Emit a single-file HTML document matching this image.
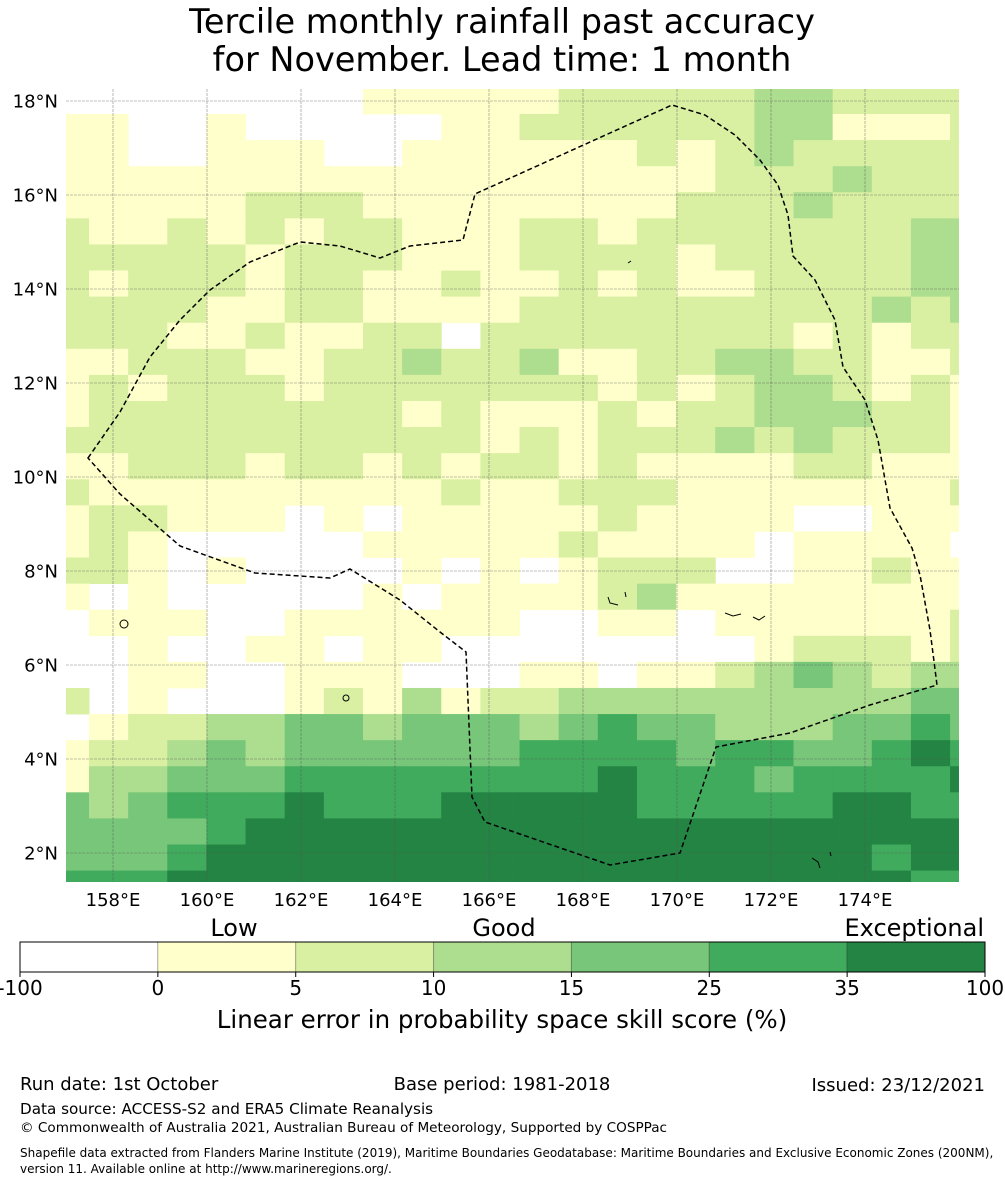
<!DOCTYPE html>
<html><head><meta charset="utf-8"><style>
body{margin:0;background:#fff;width:1005px;height:1185px;overflow:hidden;font-family:"DejaVu Sans","Liberation Sans",sans-serif}
svg text{font-family:"DejaVu Sans","Liberation Sans",sans-serif}
</style></head><body>
<svg id="chart" width="1005" height="1185" viewBox="0 0 1005 1185" xmlns="http://www.w3.org/2000/svg">
<text x="502" y="33" font-size="33.5" text-anchor="middle">Tercile monthly rainfall past accuracy</text>
<text x="502" y="71" font-size="33.5" text-anchor="middle">for November. Lead time: 1 month</text>
<defs><clipPath id="mapclip"><rect x="66" y="89" width="893" height="793"/></clipPath></defs>
<g id="cells" clip-path="url(#mapclip)"></g>
<g id="grid"></g>
<path fill="none" stroke="#000" stroke-width="1.5" stroke-dasharray="5,3" d="M88,458 L120,412 L150,357 L180,320 L210,290 L250,262 L300,242 L340,246 L380,258 L410,246 L463,240 L475,194 L672,105 L705,115 L735,135 L760,160 L778,185 L788,215 L793,256 L815,280 L835,320 L843,367 L865,400 L878,440 L890,508 L912,548 L920,575 L930,630 L937,685 L870,705 L790,733 L716,747 L680,853 L610,865 L485,822 L472,797 L466,652 L440,632 L400,600 L350,569 L330,578 L255,573 L180,546 L120,494 Z"/>
<g id="islands" fill="none" stroke="#000" stroke-width="1">
<circle cx="124" cy="624" r="4"/><circle cx="346" cy="698" r="3"/><path d="M725,613 l8,3 l8,-2 M753,617 l6,3 l6,-4"/><path d="M608,597 l2,6 l8,2 M625,592 l1,5"/><path d="M812,858 l6,4 l2,6 M830,852 l1,4"/><path d="M628,263 l3,-2"/>
</g>
<g id="ylabels" font-size="18" text-anchor="end"></g>
<g id="xlabels" font-size="18" text-anchor="middle"></g>
<text x="234" y="936" font-size="24" text-anchor="middle">Low</text>
<text x="504" y="936" font-size="24" text-anchor="middle">Good</text>
<text x="984" y="936" font-size="24" text-anchor="end">Exceptional</text>
<g id="cbar"></g>
<text x="502" y="1028" font-size="24.5" text-anchor="middle">Linear error in probability space skill score (%)</text>
<text x="20" y="1090" font-size="18">Run date: 1st October</text>
<text x="502" y="1090" font-size="18" text-anchor="middle">Base period: 1981-2018</text>
<text x="985" y="1091" font-size="18" text-anchor="end">Issued: 23/12/2021</text>
<text x="20" y="1114" font-size="15.2">Data source: ACCESS-S2 and ERA5 Climate Reanalysis</text>
<text x="20" y="1132" font-size="13.6">© Commonwealth of Australia 2021, Australian Bureau of Meteorology, Supported by COSPPac</text>
<text x="20" y="1157" font-size="12">Shapefile data extracted from Flanders Marine Institute (2019), Maritime Boundaries Geodatabase: Maritime Boundaries and Exclusive Economic Zones (200NM),</text>
<text x="20" y="1173" font-size="12">version 11. Available online at http://www.marineregions.org/.</text>
</svg>
<script>
const levelColors = ["#ffffff","#ffffcc","#d9f0a3","#addd8e","#78c679","#41ab5d","#238443"];
const cbarTicks = ["-100","0","5","10","15","25","35","100"];
const latTicks = [18,16,14,12,10,8,6,4,2];
const lonTicks = [158,160,162,164,166,168,170,172,174];
const gridRows = [
"000000001111122222332222",
"110010000011222222331112",
"110011100111111212322222",
"111111111111111112223222",
"111112221111111122232222",
"211212122111221222222233",
"222221222111222212222233",
"212221221121121211222233",
"222211221111222222222323",
"222112112202222222212122",
"112221122322311223322112",
"121222122222221212332121",
"122222222121112122333221",
"222222222221212223232221",
"112221221212212111122111",
"211111111121122211111112",
"122111010111112111100111",
"121000001111121111011110",
"221010000101012220011211",
"101000001011112311111111",
"011100111111001101111112",
"001001101100000000122212",
"001100111000110112343233",
"201000121312233333333344",
"012233443444345443334454",
"122343444444555545544565",
"133444555555556555455556",
"434555655566666555556655",
"444456666666666666666666",
"444566666666666666666566",
"555666666666666666666655"
];
const NS="http://www.w3.org/2000/svg";
const lonX = lon => 113 + (lon-158)*47;
const latY = lat => 101 + (18-lat)*47;
const colX = c => 49.86 + 39.14*c;
const rowY = r => 87.9 + 26.09*r;
const cells=document.getElementById('cells');
gridRows.forEach((row,r)=>{
  for(let c=0;c<row.length;c++){
    const v=+row[c]; if(v===0) continue;
    const el=document.createElementNS(NS,'rect');
    el.setAttribute('x',colX(c)); el.setAttribute('y',rowY(r));
    el.setAttribute('width',39.6); el.setAttribute('height',26.5);
    el.setAttribute('fill',levelColors[v]);
    
    
    cells.appendChild(el);
  }
});
const grid=document.getElementById('grid');
lonTicks.forEach(lon=>{
  const l=document.createElementNS(NS,'line');
  l.setAttribute('x1',lonX(lon));l.setAttribute('x2',lonX(lon));l.setAttribute('y1',89);l.setAttribute('y2',882);
  l.setAttribute('stroke','#555');l.setAttribute('stroke-width','0.6');l.setAttribute('stroke-dasharray','3,1');l.setAttribute('opacity','0.7');
  
  
  grid.appendChild(l);
  const t=document.createElementNS(NS,'text');
  t.setAttribute('x',lonX(lon));t.setAttribute('y',906);t.textContent=lon+'°E';
  
  
  document.getElementById('xlabels').appendChild(t);
});
latTicks.forEach(lat=>{
  const l=document.createElementNS(NS,'line');
  l.setAttribute('x1',66);l.setAttribute('x2',959);l.setAttribute('y1',latY(lat));l.setAttribute('y2',latY(lat));
  l.setAttribute('stroke','#555');l.setAttribute('stroke-width','0.6');l.setAttribute('stroke-dasharray','3,1');l.setAttribute('opacity','0.7');
  
  
  grid.appendChild(l);
  const t=document.createElementNS(NS,'text');
  t.setAttribute('x',58);t.setAttribute('y',latY(lat)+6.5);t.textContent=lat+'°N';
  
  
  document.getElementById('ylabels').appendChild(t);
});
const cbar=document.getElementById('cbar');
const cbX0=20, cbW=965/7;
levelColors.forEach((col,i)=>{
  const r=document.createElementNS(NS,'rect');
  r.setAttribute('x',cbX0+i*cbW);r.setAttribute('y',942);r.setAttribute('width',cbW);r.setAttribute('height',30);
  r.setAttribute('fill',col);r.setAttribute('stroke','rgba(0,0,0,0.25)');r.setAttribute('stroke-width','1');
  
  
  cbar.appendChild(r);
});
const frame=document.createElementNS(NS,'rect');
frame.setAttribute('x',20);frame.setAttribute('y',942);frame.setAttribute('width',965);frame.setAttribute('height',30);
frame.setAttribute('fill','none');frame.setAttribute('stroke','#000');frame.setAttribute('stroke-width','1');


cbar.appendChild(frame);
cbarTicks.forEach((lab,i)=>{
  const x=cbX0+i*cbW;
  const tk=document.createElementNS(NS,'line');
  tk.setAttribute('x1',x);tk.setAttribute('x2',x);tk.setAttribute('y1',972);tk.setAttribute('y2',977);tk.setAttribute('stroke','#000');
  
  
  cbar.appendChild(tk);
  const t=document.createElementNS(NS,'text');
  t.setAttribute('x',x);t.setAttribute('y',995);t.setAttribute('font-size','20');t.setAttribute('text-anchor','middle');
  t.textContent=lab;
  
  
  cbar.appendChild(t);
});
</script>
</body></html>
